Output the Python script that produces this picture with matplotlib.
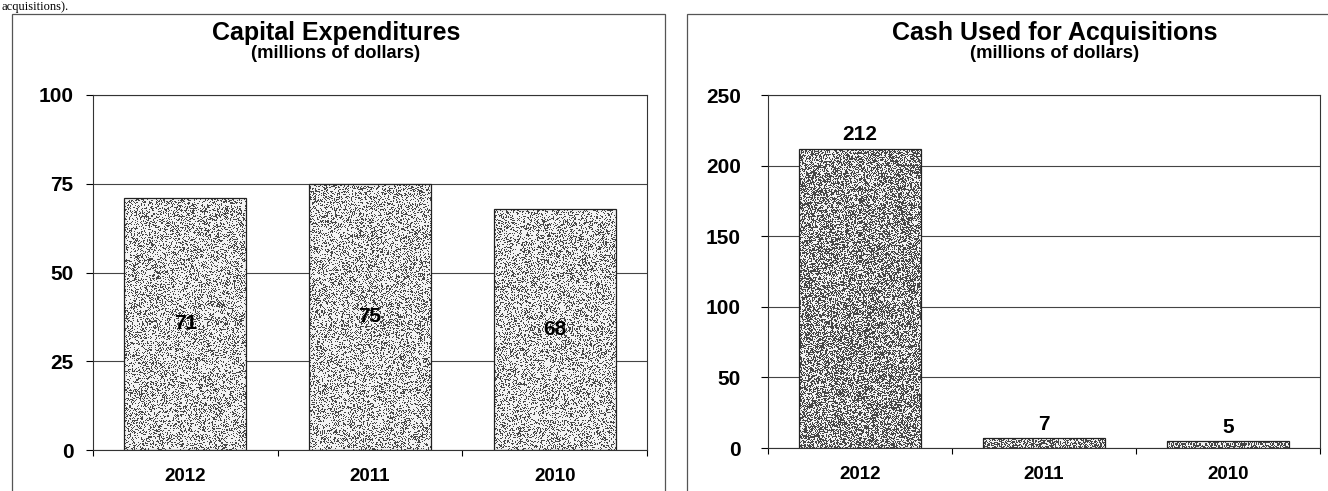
import matplotlib.pyplot as plt
from matplotlib.patches import Rectangle
import numpy as np

plt.rcParams['font.family'] = ['Liberation Sans', 'DejaVu Sans']

years = ['2012', '2011', '2010']
capex = [71, 75, 68]
acquisitions = [212, 7, 5]

W, H = 1328, 491


def px_axes(fig, x0, y_top, x1, y_bottom):
    # place an axes using pixel coordinates measured from the top-left
    return fig.add_axes([x0 / W, (H - y_bottom) / H, (x1 - x0) / W, (y_bottom - y_top) / H])


def grainy_bars(ax, values, ymax, dark_share, rng):
    bars = ax.bar(range(len(values)), values, width=0.66, color='none',
                  edgecolor='#222222', linewidth=0.9, zorder=3)
    bbox = ax.get_position()
    px_w = bbox.width * W / 3.0
    px_h = bbox.height * H / ymax
    for rect in bars:
        x, w, h = rect.get_x(), rect.get_width(), rect.get_height()
        rows = max(int(round(h * px_h)), 2)
        cols = int(round(w * px_w))
        # dithered speckle fill, like a halftone print
        speckle = np.where(rng.random((rows, cols)) < dark_share, 0.28, 0.95)
        im = ax.imshow(speckle, extent=(x, x + w, 0, h), cmap='gray', vmin=0, vmax=1,
                       aspect='auto', interpolation='nearest', zorder=2)
        im.set_clip_path(rect)
    return bars


def style_chart(ax, ymax, step, title, box, title_x, ypad):
    ax.set_xlim(-0.5, 2.5)
    ax.set_ylim(0, ymax)
    ax.set_yticks(np.arange(0, ymax + 1, step))
    ax.yaxis.grid(True, color='#444444', linewidth=0.8, zorder=1)
    ax.set_axisbelow(True)
    for s in ax.spines.values():
        s.set_color('#333333')
        s.set_linewidth(0.8)
    ax.tick_params(axis='y', length=5, width=0.8, pad=ypad, labelsize=15)
    ax.set_xticks(range(3))
    ax.set_xticklabels(years, fontsize=13.5, fontweight='bold')
    ax.tick_params(axis='x', length=0, pad=13)
    ax.set_xticks([-0.5, 0.5, 1.5, 2.5], minor=True)
    ax.tick_params(axis='x', which='minor', length=4, width=0.8)
    for lab in ax.get_yticklabels():
        lab.set_fontweight('bold')
    fig = ax.figure
    fig.text(title_x / W, 1 - 33 / H, title, ha='center', va='center',
             fontsize=18, fontweight='bold')
    fig.text(title_x / W, 1 - 53 / H, '(millions of dollars)', ha='center', va='center',
             fontsize=13.2, fontweight='bold')
    fig.add_artist(Rectangle((box[0] / W, -0.05), (box[1] - box[0]) / W, 1.05 - 14 / H,
                             transform=fig.transFigure, fill=False,
                             edgecolor='#555555', linewidth=0.9))


fig = plt.figure(figsize=(W / 100, H / 100), dpi=100)
rng = np.random.default_rng(3)

fig.text(2 / W, 1 - 10 / H, 'acquisitions).', family='Liberation Serif',
         fontsize=9, va='baseline', ha='left')

# left: capital expenditures
ax1 = px_axes(fig, 93, 95, 647, 450)
grainy_bars(ax1, capex, 100, 0.30, rng)
style_chart(ax1, 100, 25, 'Capital Expenditures', (12, 665), 336, 9)
for i, v in enumerate(capex):
    ax1.text(i, v / 2, str(v), ha='center', va='center', fontsize=15,
             fontweight='bold', zorder=4)

# right: cash used for acquisitions
ax2 = px_axes(fig, 768, 95, 1320, 448)
grainy_bars(ax2, acquisitions, 250, 0.52, rng)
style_chart(ax2, 250, 50, 'Cash Used for Acquisitions', (687, 1430), 1055, 14.5)
for i, v in enumerate(acquisitions):
    ax2.annotate(str(v), (i, v), xytext=(0, 10), textcoords='offset points',
                 ha='center', va='center', fontsize=15, fontweight='bold', zorder=4)

fig.savefig('out.png', dpi=100)
